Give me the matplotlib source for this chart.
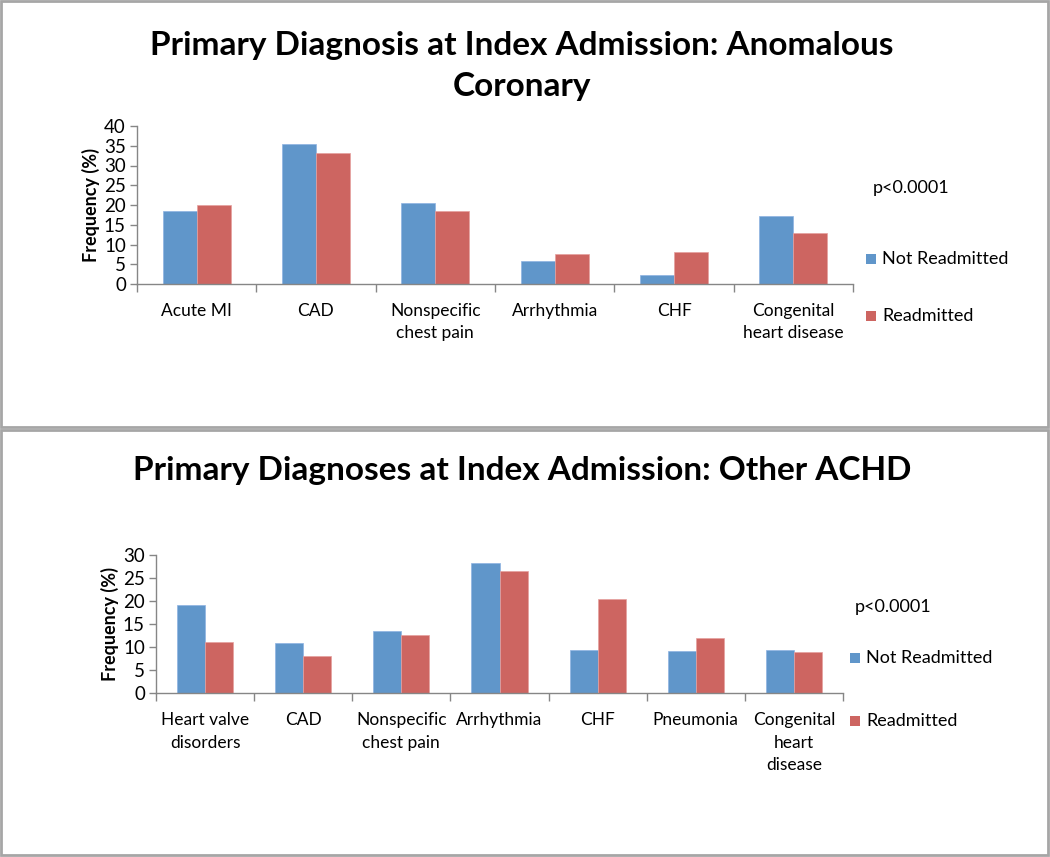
import matplotlib
matplotlib.use("Agg")
import matplotlib.pyplot as plt
from matplotlib.patches import Rectangle
import numpy as np

plt.rcParams['font.family'] = ['Lato', 'DejaVu Sans']

# ---- data ----
top_categories = ["Acute MI", "CAD", "Nonspecific\nchest pain", "Arrhythmia", "CHF",
                  "Congenital\nheart disease"]
top_not_readmitted = [18.5, 35.5, 20.6, 5.9, 2.3, 17.3]
top_readmitted = [20.0, 33.1, 18.5, 7.7, 8.2, 12.9]
top_title = "Primary Diagnosis at Index Admission: Anomalous\nCoronary"
top_yticks = [0, 5, 10, 15, 20, 25, 30, 35, 40]

bot_categories = ["Heart valve\ndisorders", "CAD", "Nonspecific\nchest pain", "Arrhythmia",
                  "CHF", "Pneumonia", "Congenital\nheart\ndisease"]
bot_not_readmitted = [19.2, 10.8, 13.4, 28.2, 9.3, 9.2, 9.4]
bot_readmitted = [11.1, 8.1, 12.7, 26.6, 20.5, 11.9, 8.9]
bot_title = "Primary Diagnoses at Index Admission: Other ACHD"
bot_yticks = [0, 5, 10, 15, 20, 25, 30]

series_names = ["Not Readmitted", "Readmitted"]
p_text = "p<0.0001"

BLUE = "#6096CA"
RED = "#CD6561"
AXC = "#868686"

W, H = 1050, 857
fig = plt.figure(figsize=(W / 100, H / 100), dpi=100)

# panel borders
for (x0, y0, x1, y1) in [(1, 1, 1048, 427), (1, 430, 1048, 855)]:
    fig.add_artist(Rectangle((x0 / W, 1 - y1 / H), (x1 - x0) / W, (y1 - y0) / H,
                             transform=fig.transFigure, fill=False,
                             edgecolor="#A6A6A6", linewidth=2))


def draw(ax_box, cats, s1, s2, yticks, title, title_y, p_pos, leg_pos, leg_gap, lsp):
    l, t, r, b = ax_box
    ax = fig.add_axes([l / W, 1 - b / H, (r - l) / W, (b - t) / H])
    n = len(cats)
    x = np.arange(n)
    bw = 1 / 3.5
    ax.bar(x - bw / 2, s1, width=bw, color=BLUE, edgecolor="#8DB3E2", linewidth=0.5)
    ax.bar(x + bw / 2, s2, width=bw, color=RED, edgecolor="#E6A19F", linewidth=0.5)
    ax.set_xlim(-0.5, n - 0.5)
    ax.set_ylim(yticks[0], yticks[-1])
    ax.set_yticks(yticks)
    ax.set_yticklabels([str(v) for v in yticks], fontsize=13.5)
    ax.set_xticks(np.arange(n + 1) - 0.5)
    ax.set_xticklabels([])
    ax.set_xticks(x, minor=True)
    ax.set_xticklabels(cats, minor=True, fontsize=12.5, linespacing=lsp, va="top")
    ax.tick_params(axis="x", which="minor", length=0, pad=14)
    ax.tick_params(axis="x", which="major", length=6, color=AXC, width=1)
    ax.tick_params(axis="y", length=5, color=AXC, width=1, pad=3)
    for s in ["top", "right"]:
        ax.spines[s].set_visible(False)
    for s in ["left", "bottom"]:
        ax.spines[s].set_color(AXC)
        ax.spines[s].set_linewidth(1)
    ax.set_ylabel("Frequency (%)", fontsize=13, fontweight="bold", labelpad=3)
    fig.text(0.497, 1 - title_y / H, title, ha="center", va="top", fontsize=24,
             fontweight="bold", linespacing=1.5)
    fig.text(p_pos[0] / W, 1 - p_pos[1] / H, p_text, fontsize=13, va="center")
    for i, (h, name) in enumerate(zip([BLUE, RED], series_names)):
        yy = leg_pos[1] + i * leg_gap
        fig.add_artist(Rectangle((leg_pos[0] / W, 1 - (yy + 5) / H), 10 / W, 10 / H,
                                 transform=fig.transFigure, facecolor=h, edgecolor="none"))
        fig.text((leg_pos[0] + 16) / W, 1 - yy / H, name, fontsize=13, va="center")
    return ax


draw((137, 126, 853, 284), top_categories, top_not_readmitted, top_readmitted,
     top_yticks, top_title, 31, (873, 188), (866, 259), 57, 1.45)
draw((156, 555, 843, 693), bot_categories, bot_not_readmitted, bot_readmitted,
     bot_yticks, bot_title, 456, (855, 607), (850, 658), 63, 1.5)

fig.savefig("out.png", dpi=100)
